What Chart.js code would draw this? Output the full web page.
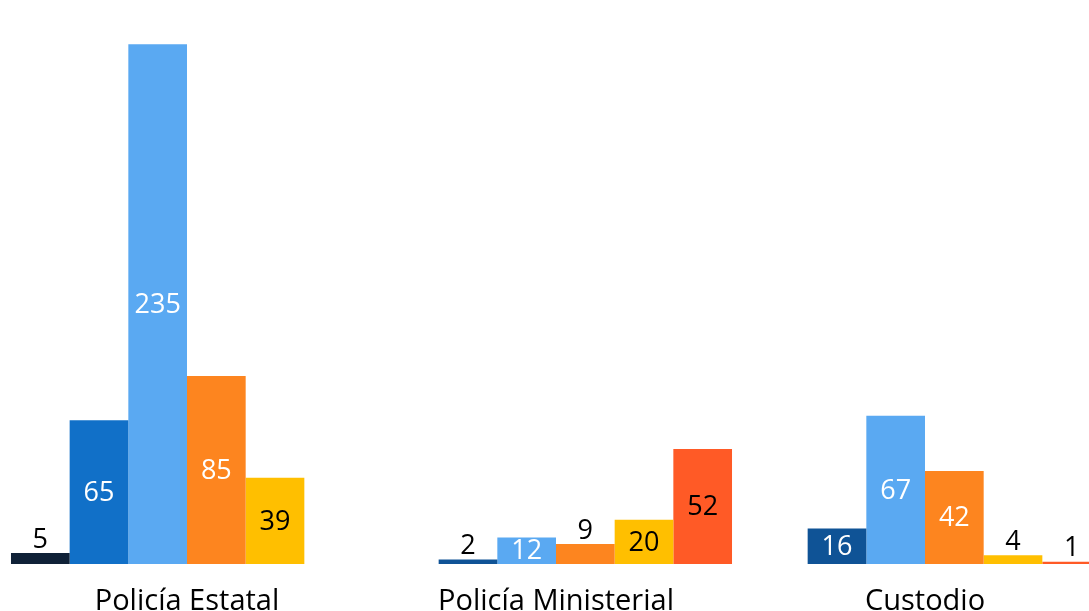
<!DOCTYPE html>
<html>
<head>
<meta charset="utf-8">
<style>
  html, body { margin: 0; padding: 0; overflow: hidden; background: #fff; }
  #wrap { width: 1112px; height: 639px; }
</style>
</head>
<body>
<div id="wrap"><canvas id="myChart"></canvas></div>

<script src="https://cdn.jsdelivr.net/npm/chart.js"></script>
<script>
const categories = ['Policía Estatal', 'Policía Ministerial', 'Custodio'];

// six bar slots per group; null = no bar in that slot
const slot1 = [5, null, null];
const slot2 = [65, 2, 16];
const slot3 = [235, 12, 67];
const slot4 = [85, 9, 42];
const slot5 = [39, 20, 4];
const slot6 = [null, 52, 1];

const slotColors = [
    ['#0f2137', '#0f2137', '#0f2137'],
    ['#1170c8', '#0f5396', '#0f5396'],
    ['#5aa9f2', '#5aa9f2', '#5aa9f2'],
    ['#fd851f', '#fd851f', '#fd851f'],
    ['#ffbf00', '#ffbf00', '#ffbf00'],
    ['#ff5a26', '#ff5a26', '#ff5a26']
];
const insideText = ['#ffffff', '#ffffff', '#ffffff', '#ffffff', '#000000', '#000000'];

const FONT = '"Open Sans", "Noto Sans", sans-serif';

// simple value labels: centred inside tall bars, above short ones
const valueLabels = {
    id: 'valueLabels',
    afterDatasetsDraw(chart) {
        const c = chart.ctx;
        c.save();
        c.font = '27px ' + FONT;
        c.textAlign = 'center';
        c.textBaseline = 'middle';
        chart.data.datasets.forEach((ds, i) => {
            const meta = chart.getDatasetMeta(i);
            meta.data.forEach((bar, j) => {
                const v = ds.data[j];
                if (v === null || v === undefined) return;
                const h = bar.base - bar.y;
                if (h > 22) {
                    c.fillStyle = insideText[i];
                    c.fillText(v, bar.x, (bar.y + bar.base) / 2 + 1);
                } else {
                    c.fillStyle = '#000000';
                    c.fillText(v, bar.x, bar.y - 13);
                }
            });
        });
        c.restore();
    }
};

const ctx = document.getElementById('myChart').getContext('2d');
const myChart = new Chart(ctx, {
    type: 'bar',
    data: {
        labels: categories,
        datasets: [slot1, slot2, slot3, slot4, slot5, slot6].map((d, i) => ({
            data: d,
            backgroundColor: slotColors[i],
            borderWidth: 0,
            categoryPercentage: 0.954,
            barPercentage: 1
        }))
    },
    options: {
        responsive: true,
        maintainAspectRatio: false,
        animation: false,
        layout: { padding: { left: 2.5, right: 2.5, top: 0, bottom: 0 } },
        plugins: {
            legend: { display: false },
            tooltip: { enabled: false }
        },
        scales: {
            x: {
                grid: { display: false, drawTicks: false },
                border: { display: false },
                ticks: {
                    color: '#000000',
                    padding: 23,
                    font: { family: FONT, size: 29, lineHeight: 1 }
                }
            },
            y: {
                display: false,
                min: 0,
                max: 255
            }
        }
    },
    plugins: [valueLabels]
});
</script>
</body>
</html>
